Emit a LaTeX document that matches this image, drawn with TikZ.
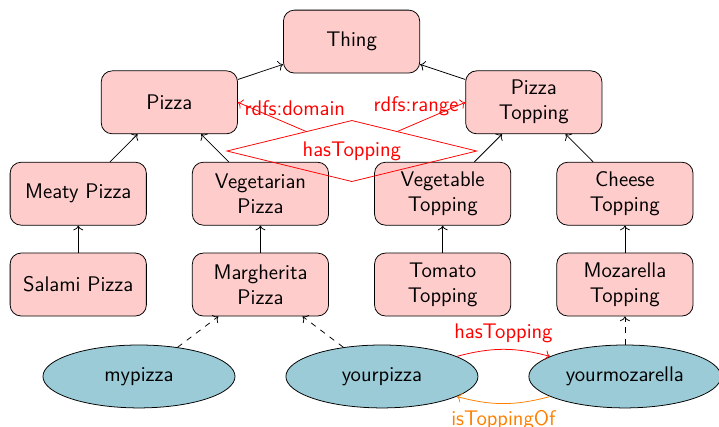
\documentclass[tikz,border=0pt]{standalone}
\usepackage{xcolor}
\usepackage{tikz}
\usetikzlibrary{positioning,arrows.meta,calc,shapes.geometric}

\definecolor{indivblue}{RGB}{154,203,214}

\begin{document}
\begin{tikzpicture}[
    font=\sffamily\fontsize{11}{13}\selectfont,
    classbox/.style={rectangle, rounded corners=2mm, draw, fill=red!20, align=center,
                     minimum width=2.49cm, minimum height=1.15cm},
    indiv/.style={ellipse, draw, fill=indivblue, minimum width=3.51cm, minimum height=1.15cm, inner sep=0pt},
    prop/.style={diamond, draw=red, text=red, aspect=4, inner sep=0pt,
                 minimum width=4.57cm, minimum height=1.12cm},
    subcl/.style={->},
    inst/.style={->, dashed}
  ]
  \useasboundingbox (0,0) rectangle (13.14,-7.80);

  % Classes
  \node[classbox] (thing) at (6.425, -0.76) {Thing};
  \node[classbox] (pizza) at (3.095, -1.87) {Pizza};
  \node[classbox] (topping) at (9.755, -1.87) {Pizza\\Topping};

  \node[classbox] (meaty) at (1.43, -3.54) {Meaty Pizza};
  \node[classbox] (veggie) at (4.76, -3.54) {Vegetarian\\Pizza};
  \node[classbox] (vegtop) at (8.09, -3.54) {Vegetable\\Topping};
  \node[classbox] (cheese) at (11.42, -3.54) {Cheese\\Topping};

  \node[classbox] (salami) at (1.43, -5.20) {Salami Pizza};
  \node[classbox] (margh) at (4.76, -5.20) {Margherita\\Pizza};
  \node[classbox] (tomato) at (8.09, -5.20) {Tomato\\Topping};
  \node[classbox] (mozza) at (11.42, -5.20) {Mozarella\\Topping};

  % Sous-classes
  \foreach \a/\b in {pizza/thing, topping/thing, meaty/pizza, veggie/pizza,
                     vegtop/topping, cheese/topping, salami/meaty, margh/veggie,
                     tomato/vegtop, mozza/cheese} {
    \draw[subcl] (\a) -- (\b);
  }

  % Propriete
  \node[prop] (has) at (6.43, -2.76) {hasTopping};
  \draw[->, red] (has) -- (pizza.east) node[at end, right, yshift=-1mm] {rdfs:domain};
  \draw[->, red] (has) -- (topping.west) node[at end, left, yshift=-0.8mm] {rdfs:range};

  % Individus
  \node[indiv] (mypizza) at (2.54, -6.88) {mypizza};
  \node[indiv] (yourpizza) at (6.98, -6.88) {yourpizza};
  \node[indiv] (yourmozza) at (11.42, -6.88) {yourmozarella};

  \draw[inst] (mypizza) -- (margh);
  \draw[inst] (yourpizza) -- (margh);
  \draw[inst] (yourmozza) -- (mozza);

  \draw[->, red] (yourpizza) to[bend left=15] node[midway, above] {hasTopping} (yourmozza);
  \draw[->, orange] (yourmozza) to[bend left=15] node[midway, below] {isToppingOf} (yourpizza);
\end{tikzpicture}
\end{document}
